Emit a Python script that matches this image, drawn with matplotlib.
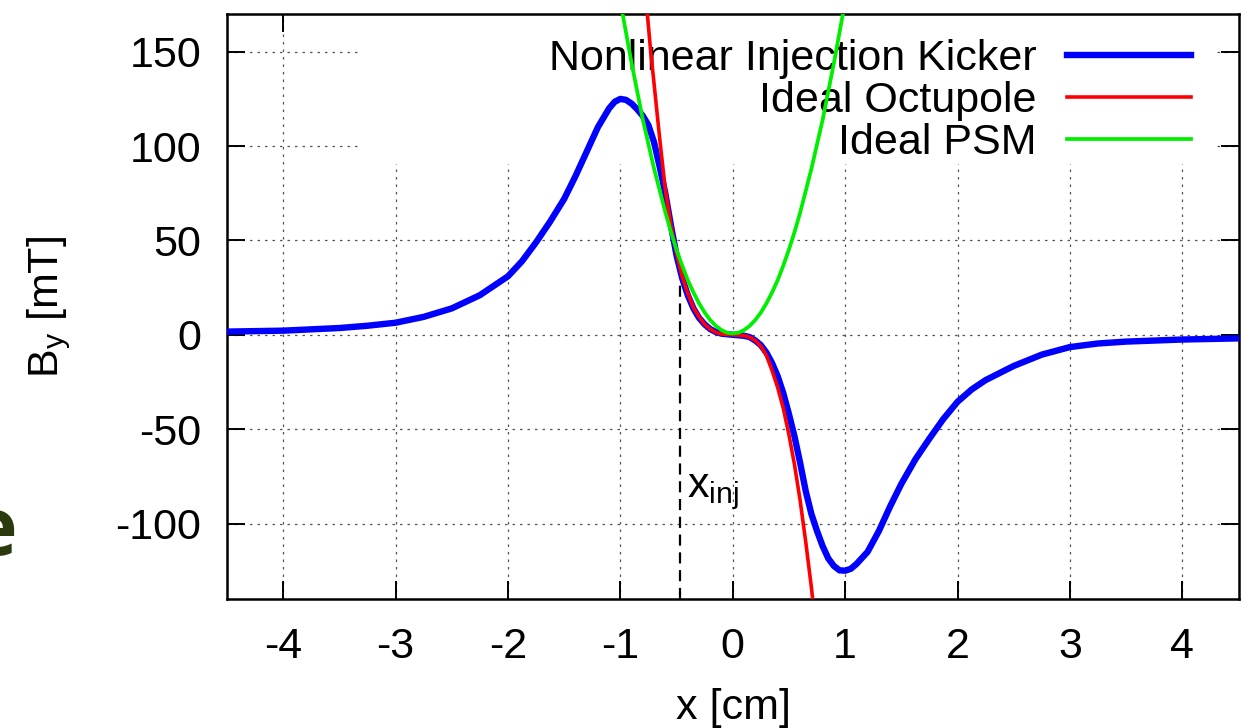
import numpy as np
import matplotlib.pyplot as plt
from matplotlib.patches import Rectangle

## values
## nonlinear injection kicker field (blue)
kickerX = [-4.5, -4.0, -3.5, -3.25, -3.0, -2.75, -2.5, -2.25, -2.0, -1.875, -1.75, -1.625, -1.5,
           -1.4, -1.3, -1.2, -1.1, -1.05, -1.0, -0.95, -0.9, -0.85, -0.8, -0.75, -0.7,
           -0.65, -0.6, -0.55, -0.5, -0.45, -0.4, -0.35, -0.3, -0.25, -0.2, -0.15, -0.1, 0.0,
           0.1, 0.15, 0.2, 0.25, 0.3, 0.35, 0.4, 0.45, 0.5, 0.55, 0.6, 0.65, 0.7, 0.75,
           0.8, 0.85, 0.9, 0.95, 1.0, 1.05, 1.1, 1.2, 1.3, 1.4, 1.5, 1.625, 1.75, 1.875,
           2.0, 2.125, 2.25, 2.5, 2.75, 3.0, 3.25, 3.5, 4.0, 4.5]
kickerB = [1.7, 2.2, 3.6, 4.8, 6.4, 9.5, 14.0, 21.0, 31.0, 39.0, 49.0, 60.0, 72.0,
           84.0, 97.0, 110.0, 120.0, 123.5, 125.0, 124.5, 122.5, 119.5, 116.0, 111.0, 102.0,
           89.0, 75.0, 58.0, 42.0, 30.0, 21.0, 14.0, 9.0, 5.5, 3.0, 1.5, 0.6, 0.0,
           -0.5, -1.2, -3.0, -5.5, -9.5, -15.0, -22.0, -31.0, -42.0, -54.0, -68.0, -83.0, -95.0, -104.0,
           -112.0, -118.5, -122.5, -124.8, -125.0, -124.0, -121.5, -115.0, -104.0, -91.0, -79.0, -66.0, -55.0, -44.5,
           -35.5, -29.0, -24.0, -16.5, -10.5, -6.5, -4.6, -3.6, -2.5, -1.9]

## ideal octupole (red)
octX = [-0.76, -0.73, -0.7, -0.65, -0.6, -0.55, -0.5, -0.45, -0.4, -0.35, -0.3, -0.25, -0.2,
        -0.15, -0.1, 0.0, 0.1, 0.15, 0.2, 0.25, 0.3, 0.35, 0.4, 0.45, 0.5, 0.55, 0.6, 0.65, 0.7, 0.72]
octB = [170.0, 150.0, 133.0, 104.0, 77.0, 58.0, 43.0, 31.0, 22.0, 14.5, 9.5, 5.5, 3.0,
        1.3, 0.4, 0.0, -0.4, -1.3, -3.0, -6.0, -11.0, -19.0, -28.0, -39.0, -53.0, -69.0, -88.0, -110.0, -134.0, -145.0]

## ideal psm (green)
psmX = [-0.98, -0.9, -0.8, -0.7, -0.6, -0.55, -0.5, -0.45, -0.4, -0.35, -0.3, -0.25, -0.2,
        -0.15, -0.1, -0.05, 0.0, 0.05, 0.1, 0.15, 0.2, 0.25, 0.3, 0.35, 0.4, 0.45, 0.5,
        0.55, 0.6, 0.7, 0.8, 0.9, 0.98]
psmB = [170.0, 144.0, 114.0, 88.0, 65.0, 54.5, 45.0, 36.7, 29.0, 22.5, 16.7, 11.8, 7.8,
        4.7, 2.5, 1.1, 0.7, 1.1, 2.5, 4.7, 7.8, 11.8, 16.7, 22.5, 29.0, 36.7, 45.2,
        54.5, 64.8, 88.0, 114.0, 144.0, 170.0]

## injection point
xInj = -0.47
bInj = 29.0

xTicks = [-4, -3, -2, -1, 0, 1, 2, 3, 4]
yTicks = [-100, -50, 0, 50, 100, 150]

plt.rcParams['font.family'] = ['Liberation Sans', 'DejaVu Sans']
plt.rcParams['axes.unicode_minus'] = False
fs = 31

fig = plt.figure(figsize=(12.55, 7.28), dpi=100)
ax = fig.add_axes([227 / 1255, 1 - 599 / 728, 1011.5 / 1255, 585 / 728])

ax.set_xlim(-4.5, 4.5)
ax.set_ylim(-140, 170)
ax.set_xticks(xTicks)
ax.set_yticks(yTicks)
ax.tick_params(direction='in', length=13, width=1.4, top=True, right=True,
               labelsize=fs, pad=18.5)
ax.tick_params(axis='x', pad=20)
for s in ax.spines.values():
    s.set_linewidth(1.8)

## gnuplot style grid
ax.grid(True, color='#555555', linestyle=(0, (2, 4)), linewidth=0.9)
ax.set_axisbelow(True)

## white box behind the key, hides the grid but not the curves
ax.add_patch(Rectangle((-3.32, 90.7), 4.29 + 3.32, 80, facecolor='white',
                       edgecolor='none', zorder=1.2))

## curves
ax.plot(kickerX, kickerB, color='#0000ff', lw=4.6, label='Nonlinear Injection Kicker',
        zorder=3, solid_joinstyle='round')
ax.plot(octX, octB, color='#ff0000', lw=2.6, label='Ideal Octupole', zorder=3.1)
ax.plot(psmX, psmB, color='#00ee00', lw=2.7, label='Ideal PSM', zorder=3.2)

## x_inj marker
ax.plot([xInj, xInj], [-140, bInj], color='black', lw=1.6, linestyle=(0, (5, 3)), zorder=2.5)
ax.text(-0.41, -86.0, r'x$_\mathregular{inj}$', fontsize=fs, va='baseline', ha='left')

leg = ax.legend(loc='upper right', bbox_to_anchor=(0.953, 0.958), frameon=False,
                markerfirst=False, fontsize=fs, handlelength=2.88, handletextpad=0.7,
                labelspacing=0.05, borderaxespad=0, borderpad=0)
leg.set_zorder(2)

## axis labels
fig.text(49 / 1255, 1 - 307 / 728, r'B$_\mathregular{y}$ [mT]', rotation=90,
         fontsize=fs, ha='center', va='center')
fig.text(733 / 1255, 1 - 708 / 728, 'x [cm]', fontsize=fs, ha='center', va='center')

## leftover from the slide on the left edge
fig.text(17 / 1255, 1 - 555 / 728, 'e', fontsize=58, fontweight='bold',
         color='#2b3a0e', ha='right', va='baseline', family='Open Sans')

fig.savefig('out.png', dpi=100)
